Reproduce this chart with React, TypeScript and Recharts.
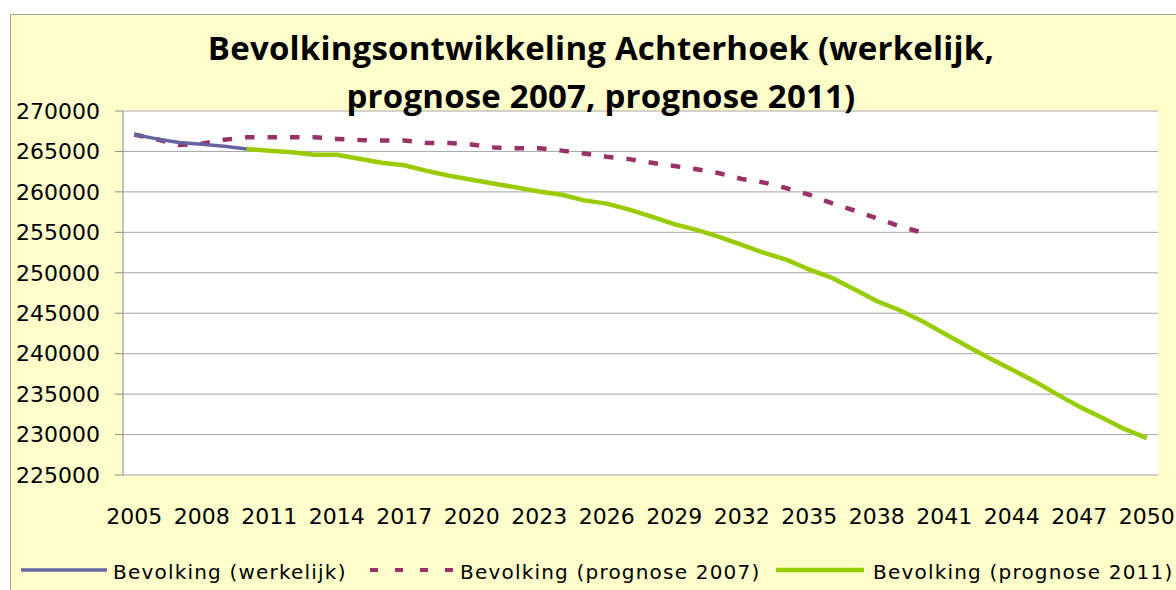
import { LineChart, Line, CartesianGrid, XAxis, YAxis } from 'recharts';

const years = [
  2005, 2006, 2007, 2008, 2009, 2010, 2011, 2012, 2013, 2014, 2015, 2016, 2017, 2018, 2019, 2020,
  2021, 2022, 2023, 2024, 2025, 2026, 2027, 2028, 2029, 2030, 2031, 2032, 2033, 2034, 2035, 2036,
  2037, 2038, 2039, 2040, 2041, 2042, 2043, 2044, 2045, 2046, 2047, 2048, 2049, 2050
];

// werkelijk: 2005-2010
const werkelijkStart = 2005;
const werkelijk = [267100, 266550, 266100, 265900, 265650, 265300];

// prognose 2007: 2005-2040
const prognose2007Start = 2005;
const prognose2007 = [
  267100, 266500, 265800, 265950, 266450, 266750, 266750, 266750, 266750, 266550, 266400, 266350,
  266350, 266050, 266050, 265850, 265500, 265400, 265400, 265100, 264750, 264350, 264050, 263600,
  263200, 262800, 262300, 261600, 261150, 260450, 259650, 258600, 257700, 256750, 255750, 255000
];

// prognose 2011: 2010-2050
const prognose2011Start = 2010;
const prognose2011 = [
  265300, 265100, 264900, 264600, 264600, 264100, 263600, 263300, 262600, 262000, 261500, 261000,
  260550, 260050, 259650, 258950, 258550, 257800, 256950, 256000, 255300, 254450, 253450, 252450,
  251600, 250400, 249400, 247950, 246500, 245400, 244050, 242500, 240950, 239450, 238050, 236600,
  235000, 233450, 232100, 230700, 229550
];

const yTicks = [225000, 230000, 235000, 240000, 245000, 250000, 255000, 260000, 265000, 270000];
const xLabels = [2005, 2008, 2011, 2014, 2017, 2020, 2023, 2026, 2029, 2032, 2035, 2038, 2041, 2044, 2047, 2050];
const xMarks = [...years.map((y) => y - 0.5), years[years.length - 1] + 0.5];

const pick = (arr: number[], start: number, year: number) => {
  const v = arr[year - start];
  return v === undefined || year < start ? null : v;
};

const data = years.map((year) => ({
  year,
  werkelijk: pick(werkelijk, werkelijkStart, year),
  prognose2007: pick(prognose2007, prognose2007Start, year),
  prognose2011: pick(prognose2011, prognose2011Start, year)
}));

const BLUE = '#64649E';
const PURPLE = '#993366';
const GREEN = '#99CC00';
const GRID = '#A6A6A6';
const AXIS = '#8C8C8C';

const tickFont = { fontFamily: '"DejaVu Sans", Verdana, sans-serif', fontSize: 22, fill: '#000' };

export default function App() {
  return (
    <div style={root}>
      <div style={frame} />

      <LineChart
        width={1176}
        height={590}
        data={data}
        margin={{ top: 111, right: 18, bottom: 55, left: 0 }}
        style={{ position: 'absolute', left: 0, top: 0 }}
      >
        <CartesianGrid vertical={false} stroke={GRID} fill="#ffffff" />
        <XAxis
          xAxisId="marks"
          type="number"
          dataKey="year"
          domain={[2004.5, 2050.5]}
          allowDataOverflow
          ticks={xMarks}
          interval={0}
          tick={false}
          tickSize={8}
          height={0}
          stroke={AXIS}
        />
        <XAxis
          xAxisId="labels"
          type="number"
          dataKey="year"
          domain={[2004.5, 2050.5]}
          allowDataOverflow
          ticks={xLabels}
          interval={0}
          axisLine={false}
          tickLine={false}
          tickSize={0}
          tickMargin={33}
          height={60}
          tick={tickFont}
        />
        <YAxis
          type="number"
          domain={[225000, 270000]}
          allowDataOverflow
          ticks={yTicks}
          interval={0}
          width={123}
          tickSize={8}
          tickMargin={15}
          stroke={AXIS}
          tick={tickFont}
        />
        <Line
          xAxisId="labels"
          type="linear"
          dataKey="prognose2007"
          stroke={PURPLE}
          strokeWidth={4.5}
          strokeDasharray="9.5 13"
          dot={false}
          activeDot={false}
          isAnimationActive={false}
        />
        <Line
          xAxisId="labels"
          type="linear"
          dataKey="prognose2011"
          stroke={GREEN}
          strokeWidth={4.5}
          strokeLinejoin="round"
          dot={false}
          activeDot={false}
          isAnimationActive={false}
        />
        <Line
          xAxisId="labels"
          type="linear"
          dataKey="werkelijk"
          stroke={BLUE}
          strokeWidth={3.5}
          strokeLinejoin="round"
          dot={false}
          activeDot={false}
          isAnimationActive={false}
        />
      </LineChart>

      <div style={title}>
        Bevolkingsontwikkeling Achterhoek (werkelijk,
        <br />
        prognose 2007, prognose 2011)
      </div>

      <div style={legendItem(21)}>
        <svg width={86} height={10}>
          <line x1={1} y1={5} x2={85} y2={5} stroke={BLUE} strokeWidth={3.5} strokeLinecap="round" />
        </svg>
      </div>
      <div style={legendText(113)}>Bevolking (werkelijk)</div>

      <div style={legendItem(370)}>
        <svg width={86} height={10}>
          <line x1={0} y1={5} x2={86} y2={5} stroke={PURPLE} strokeWidth={4} strokeDasharray="8 17" />
        </svg>
      </div>
      <div style={legendText(460)}>Bevolking (prognose 2007)</div>

      <div style={legendItem(776)}>
        <svg width={88} height={10}>
          <line x1={1} y1={5} x2={87} y2={5} stroke={GREEN} strokeWidth={4.5} strokeLinecap="round" />
        </svg>
      </div>
      <div style={legendText(873)}>Bevolking (prognose 2011)</div>
    </div>
  );
}

const root = {
  position: 'absolute' as const,
  left: 0,
  top: 0,
  width: 1176,
  height: 590,
  overflow: 'hidden' as const,
  background: '#ffffff'
};

const frame = {
  position: 'absolute' as const,
  left: 10,
  top: 14,
  width: 1200,
  height: 620,
  background: '#FFFFCC',
  border: '1.5px solid #A0A0A0'
};

const title = {
  position: 'absolute' as const,
  left: 0,
  top: 24,
  width: 1202,
  textAlign: 'center' as const,
  fontFamily: '"Open Sans", Lato, sans-serif',
  fontWeight: 700,
  fontSize: 33,
  letterSpacing: 0.2,
  lineHeight: '48px',
  color: '#000'
};

const legendItem = (left: number) => ({
  position: 'absolute' as const,
  left,
  top: 565,
  height: 10,
  lineHeight: 0
});

const legendText = (left: number) => ({
  position: 'absolute' as const,
  left,
  top: 559,
  fontFamily: '"DejaVu Sans", Verdana, sans-serif',
  fontSize: 20,
  lineHeight: '26px',
  letterSpacing: 1.2,
  color: '#000',
  whiteSpace: 'nowrap' as const
});
